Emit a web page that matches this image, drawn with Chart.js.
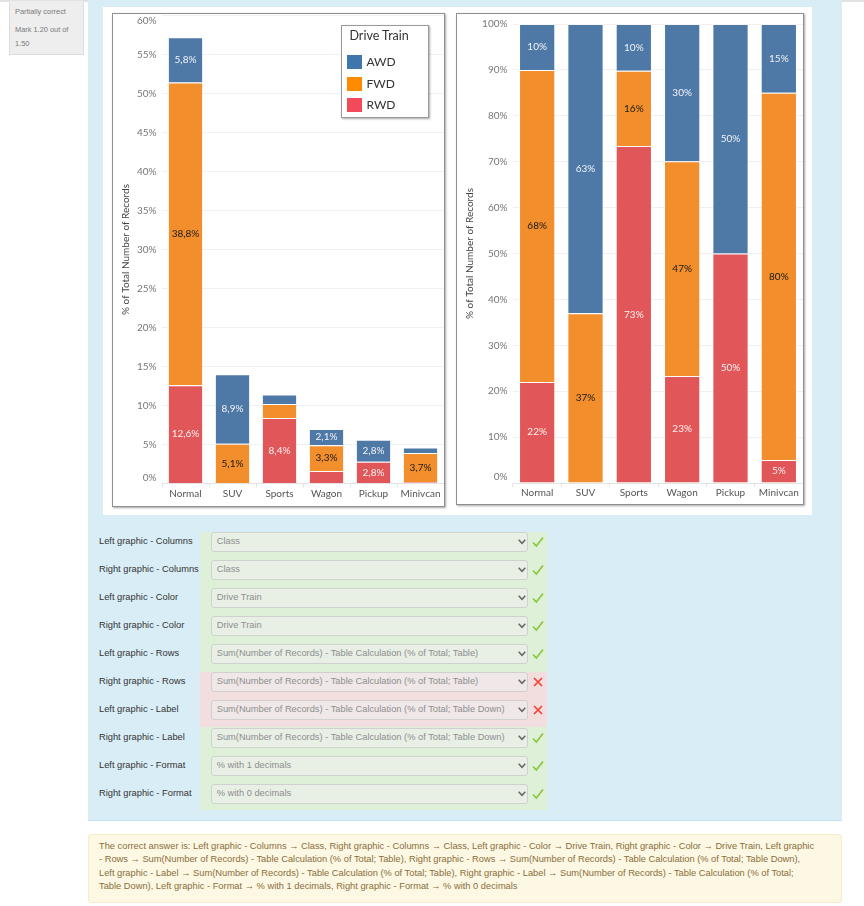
<!DOCTYPE html>
<html>
<head>
<meta charset="utf-8">
<script src="https://cdn.jsdelivr.net/npm/chart.js@4.4.1/dist/chart.umd.min.js"></script>
<style>
  body { margin: 0; width: 864px; height: 906px; position: relative; overflow: hidden; background: #fff;
         font-family: "Liberation Sans", Arial, sans-serif; }
  .abs { position: absolute; box-sizing: border-box; }
  #topline { left: 0; top: 0; width: 864px; height: 2px; background: #e2e2e2; }
  #info { left: 9px; top: 1px; width: 75px; height: 54px; background: #eeeeee; border: 1px solid #dcdcdc; border-top: none; }
  #info div { position: absolute; left: 5px; font-size: 7.4px; color: #7a7a7a; white-space: nowrap; line-height: 10px; }
  #panel { left: 88px; top: 0; width: 754px; height: 821px; background: #d9edf7; border-bottom: 1px solid #bfe0ee; }
  #shot { left: 103px; top: 7px; width: 709px; height: 508px; background: #fff; }
  .frame { background: #fff; border: 1px solid #8e8e8e; box-shadow: 1px 1px 2px rgba(0,0,0,0.35); }
  .frame .box { position: absolute; left: 0; top: 0; right: 0; bottom: 0; }
  #legend { left: 340.5px; top: 25px; width: 88px; height: 93px; background: #fff; border: 1px solid #9a9a9a;
            box-shadow: 1px 1px 2px rgba(0,0,0,0.35); font-family: Lato, sans-serif; color: #333; z-index: 5; }
  #legend .lt { position: absolute; left: 8px; top: 2px; font-size: 12.5px; line-height: 16px; }
  #legend .sw { position: absolute; left: 5px; width: 15px; height: 14px; }
  #legend .it { position: absolute; left: 25px; font-size: 12px; line-height: 14px; }
  #green { left: 200px; top: 531.7px; width: 346.7px; height: 278.3px; background: #dff0d8; }
  #red { left: 200px; top: 672.3px; width: 346.7px; height: 54.4px; background: #f2dede; }
  .lab { left: 99px; height: 19.3px; line-height: 19.3px; font-size: 9.3px; color: #333; white-space: nowrap; }
  .sel { left: 210.7px; width: 317.6px; height: 19.3px; line-height: 17.3px; padding-left: 5px; font-size: 9.3px; color: #8e8e8e;
         background: rgba(238,238,238,0.6); border: 1px solid #d0d0d0; border-radius: 3px; white-space: nowrap; }
  .sel svg { position: absolute; left: 306px; top: 6px; }
  .mark { left: 531.5px; width: 12px; height: 12px; }
  #answer { left: 88px; top: 834px; width: 754px; height: 69px; background: #fcf8e3; border: 1px solid #f7ebc9; border-radius: 3px; }
  #answer div { position: absolute; left: 10px; font-size: 9.3px; color: #8a6d3b; white-space: nowrap; line-height: 13.3px; }
</style>
</head>
<body>
<div id="topline" class="abs"></div>
<div id="info" class="abs">
  <div style="top:6px">Partially correct</div>
  <div style="top:24px">Mark 1.20 out of</div>
  <div style="top:38px">1.50</div>
</div>
<div id="panel" class="abs"></div>
<div id="shot" class="abs"></div>

<div class="abs frame" style="left:112px; top:13px; width:333px; height:494px;">
  <div class="box"><canvas id="leftChart"></canvas></div>
</div>
<div class="abs frame" style="left:456px; top:13px; width:348px; height:492px;">
  <div class="box"><canvas id="rightChart"></canvas></div>
</div>
<div id="legend" class="abs"><div class="lt">Drive Train</div></div>

<div id="green" class="abs"></div>
<div id="red" class="abs"></div>
<div id="rows"></div>

<div id="answer" class="abs">
  <div style="top:5px">The correct answer is: Left graphic - Columns → Class, Right graphic - Columns → Class, Left graphic - Color → Drive Train, Right graphic - Color → Drive Train, Left graphic</div>
  <div style="top:18.3px">- Rows → Sum(Number of Records) - Table Calculation (% of Total; Table), Right graphic - Rows → Sum(Number of Records) - Table Calculation (% of Total; Table Down),</div>
  <div style="top:31.6px">Left graphic - Label → Sum(Number of Records) - Table Calculation (% of Total; Table), Right graphic - Label → Sum(Number of Records) - Table Calculation (% of Total;</div>
  <div style="top:44.9px">Table Down), Left graphic - Format → % with 1 decimals, Right graphic - Format → % with 0 decimals</div>
</div>

<script>
const classes = ['Normal', 'SUV', 'Sports', 'Wagon', 'Pickup', 'Minivcan'];
const driveTrains = ['AWD', 'FWD', 'RWD'];

// left graphic: % of total (table)
const leftAwd = [5.8, 8.9, 1.2, 2.1, 2.8, 0.7];
const leftFwd = [38.8, 5.1, 1.8, 3.3, 0, 3.7];
const leftRwd = [12.6, 0, 8.4, 1.6, 2.8, 0.2];

// right graphic: % of total (table down)
const rightAwd = [10, 63, 10.2, 29.9, 50, 15];
const rightFwd = [68, 37, 16.4, 46.8, 0, 80];
const rightRwd = [22, 0, 73.4, 23.3, 50, 5];

const barColors = ['#4e79a7', '#f28e2b', '#e15759'];
const legendColors = ['#3f77ac', '#ff8b00', '#f24a5a'];

const rowLabels = ['Left graphic - Columns', 'Right graphic - Columns', 'Left graphic - Color', 'Right graphic - Color',
  'Left graphic - Rows', 'Right graphic - Rows', 'Left graphic - Label', 'Right graphic - Label',
  'Left graphic - Format', 'Right graphic - Format'];
const rowValues = ['Class', 'Class', 'Drive Train', 'Drive Train',
  'Sum(Number of Records) - Table Calculation (% of Total; Table)',
  'Sum(Number of Records) - Table Calculation (% of Total; Table)',
  'Sum(Number of Records) - Table Calculation (% of Total; Table Down)',
  'Sum(Number of Records) - Table Calculation (% of Total; Table Down)',
  '% with 1 decimals', '% with 0 decimals'];
const rowOk = [true, true, true, true, true, false, false, true, true, true];

// legend
const legend = document.getElementById('legend');
const legendTops = [29, 51, 72];
driveTrains.forEach((name, i) => {
  legend.innerHTML += `<div class="sw" style="top:${legendTops[i]}px;background:${legendColors[i]}"></div>` +
    `<div class="it" style="top:${legendTops[i]}px">${name}</div>`;
});

// answer rows
const rows = document.getElementById('rows');
rowLabels.forEach((label, i) => {
  const top = 532.3 + 28 * i;
  const mark = rowOk[i]
    ? '<path d="M1 6.5 L4.3 10 L11 1.5" fill="none" stroke="#8cc63f" stroke-width="1.7"/>'
    : '<path d="M2 2 L10 10 M10 2 L2 10" fill="none" stroke="#f0443a" stroke-width="1.7"/>';
  rows.innerHTML += `<div class="abs lab" style="top:${top}px">${label}</div>` +
    `<div class="abs sel" style="top:${top}px">${rowValues[i]}` +
    `<svg width="8" height="6"><path d="M0.7 0.8 L4 4.3 L7.3 0.8" fill="none" stroke="#666" stroke-width="1.5"/></svg></div>` +
    `<svg class="abs mark" style="top:${top + 3.5}px">${mark}</svg>`;
});

// value labels in the middle of each segment
const segLabels = {
  id: 'segLabels',
  afterDatasetsDraw(chart, args, opts) {
    const ctx = chart.ctx;
    ctx.save();
    ctx.font = '10px Lato';
    ctx.textAlign = 'center';
    ctx.textBaseline = 'middle';
    chart.data.datasets.forEach((ds, i) => {
      chart.getDatasetMeta(i).data.forEach((bar, j) => {
        const v = ds.data[j];
        if (v < opts.min) return;
        ctx.fillStyle = ds.label === 'FWD' ? '#1a1a1a' : 'rgba(255,255,255,0.92)';
        ctx.fillText(v.toFixed(opts.decimals).replace('.', ',') + '%', bar.x, (bar.y + bar.base) / 2);
      });
    });
    ctx.restore();
  }
};

// y tick labels kept inside the pane, like Tableau does
const paneTicks = {
  id: 'paneTicks',
  afterDraw(chart) {
    const s = chart.scales.y;
    const ctx = chart.ctx;
    ctx.save();
    ctx.font = '10px Lato';
    ctx.fillStyle = '#777';
    ctx.textAlign = 'right';
    ctx.textBaseline = 'middle';
    s.ticks.forEach(t => {
      let y = s.getPixelForValue(t.value);
      y = Math.min(Math.max(y, 6.8), s.bottom - 5.8);
      ctx.fillText(t.value + '%', s.right - 5.5, y);
    });
    ctx.restore();
  }
};

function makeChart(id, awd, fwd, rwd, max, step, yWidth, xHeight, padTop, opts) {
  const series = [rwd, fwd, awd];
  const names = ['RWD', 'FWD', 'AWD'];
  const colors = [barColors[2], barColors[1], barColors[0]];
  return new Chart(document.getElementById(id), {
    type: 'bar',
    data: {
      labels: classes,
      datasets: series.map((d, i) => ({
        label: names[i],
        data: d,
        backgroundColor: colors[i],
        borderColor: 'rgba(255,255,255,0.35)',
        borderWidth: 1,
        barPercentage: 0.75,
        categoryPercentage: 1
      }))
    },
    options: {
      responsive: true,
      maintainAspectRatio: false,
      animation: false,
      layout: { padding: { top: padTop, left: 0, right: 0, bottom: 0 } },
      plugins: { legend: { display: false }, tooltip: { enabled: false }, segLabels: opts },
      scales: {
        x: {
          stacked: true,
          grid: { display: true, drawOnChartArea: false, drawTicks: true, tickLength: 4, color: '#e4e4e4', offset: true },
          border: { display: true, color: '#e4e4e4' },
          ticks: { font: { family: 'Lato', size: 10 }, color: '#555', padding: 0, maxRotation: 0, autoSkip: false },
          afterFit(s) { s.height = xHeight; }
        },
        y: {
          stacked: true,
          min: 0,
          max: max,
          grid: { color: '#f0f0f0', drawTicks: false },
          border: { display: false },
          ticks: { display: false, stepSize: step },
          title: {
            display: true,
            text: '% of Total Number of Records',
            font: { family: 'Lato', size: 10 },
            color: '#444',
            padding: { top: 7, bottom: 0 }
          },
          afterFit(s) { s.width = yWidth; }
        }
      }
    },
    plugins: [segLabels, paneTicks]
  });
}

makeChart('leftChart', leftAwd, leftFwd, leftRwd, 60, 5, 49, 22.5, 1.5, { min: 2, decimals: 1 });
makeChart('rightChart', rightAwd, rightFwd, rightRwd, 100, 10, 56, 21, 10, { min: 0.5, decimals: 0 });
</script>
</body>
</html>
